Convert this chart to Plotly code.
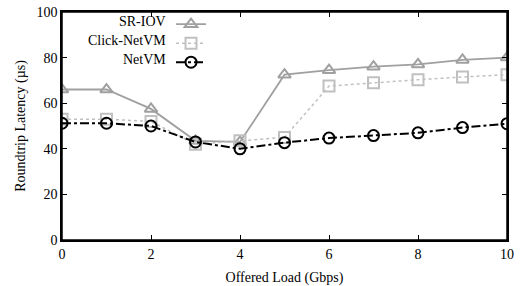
import plotly.graph_objects as go

load = [0, 1, 2, 3, 4, 5, 6, 7, 8, 9, 10]
sriov = [66, 66, 57.5, 43.5, 43, 72.5, 74.5, 76, 77, 79, 80]
click = [53, 53, 52, 42, 43.5, 45, 67.5, 69, 70.3, 71.5, 72.5]
netvm = [51.2, 51.2, 50, 43, 40, 42.7, 44.7, 45.8, 47, 49.3, 51]
names = ["SR-IOV", "Click-NetVM", "NetVM"]

font = "Liberation Serif, Times New Roman, serif"

fig = go.Figure()
fig.add_trace(go.Scatter(x=load, y=sriov, name=" ", mode="lines+markers",
                         line=dict(color="#a0a0a0", width=1.8),
                         marker=dict(symbol="triangle-up-open", size=11, color="#a0a0a0",
                                     line=dict(width=2))))
fig.add_trace(go.Scatter(x=load, y=click, name="  ", mode="lines+markers",
                         line=dict(color="#c0c0c0", width=1.5, dash="dot"),
                         marker=dict(symbol="square-open", size=11, color="#c0c0c0",
                                     line=dict(width=2))))
fig.add_trace(go.Scatter(x=load, y=netvm, name="   ", mode="lines+markers",
                         line=dict(color="black", width=2, dash="dashdot"),
                         marker=dict(symbol="circle-open", size=11, color="black",
                                     line=dict(width=2))))

axis_common = dict(showgrid=False, zeroline=False, showline=True, linecolor="black",
                   linewidth=1.5, mirror="allticks", ticks="inside", ticklen=5,
                   tickcolor="black", tickfont=dict(family=font, size=14, color="black"))

fig.update_layout(
    width=520, height=286,
    margin=dict(l=62, r=13, t=10, b=46),
    paper_bgcolor="white", plot_bgcolor="white",
    font=dict(family=font, size=14, color="black"),
    xaxis=dict(range=[0, 10], tickvals=[0, 2, 4, 6, 8, 10], automargin=False,
               title=dict(text="Offered Load (Gbps)",
                          font=dict(family=font, size=14)), **axis_common),
    yaxis=dict(range=[0, 100], tickvals=[0, 20, 40, 60, 80, 100], automargin="left",
               title=dict(text="Roundtrip Latency (µs)", standoff=8,
                          font=dict(family=font, size=14)), **axis_common),
    legend=dict(x=0.245, y=1.01, xanchor="left", yanchor="top",
                bgcolor="rgba(0,0,0,0)", font=dict(family=font, size=8),
                tracegroupgap=0, itemwidth=30),
    showlegend=True,
    shapes=[dict(type="rect", xref="paper", yref="paper", x0=0, y0=0, x1=1, y1=1,
                 line=dict(color="black", width=1.5), layer="above")],
)

label_y = [0.957, 0.874, 0.791]
for name, ly in zip(names, label_y):
    fig.add_annotation(text=name, xref="paper", yref="paper", x=0.238, y=ly,
                       xanchor="right", yanchor="middle", showarrow=False,
                       font=dict(family=font, size=14, color="black"))

fig.write_html("out.html", config={"displayModeBar": False},
               post_script="document.body.style.margin='0';document.body.style.overflow='hidden';")
